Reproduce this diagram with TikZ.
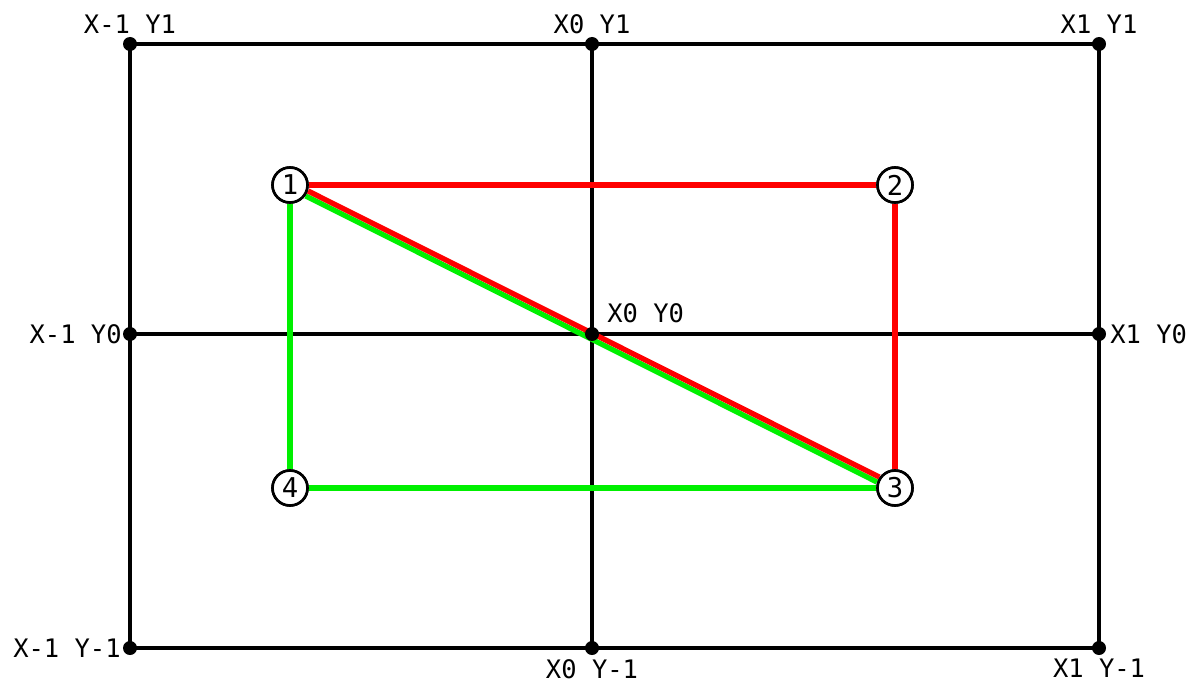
\documentclass[tikz,border=0pt]{standalone}
\usepackage{fontspec}
\setmonofont{DejaVu Sans Mono}
\usetikzlibrary{positioning,calc}
\definecolor{linered}{RGB}{255,0,0}
\definecolor{linegreen}{RGB}{0,240,0}

\begin{document}
\begin{tikzpicture}[x=0.02cm, y=0.02cm,
    gridline/.style={line width=1.8pt},
    lbl/.style={font=\ttfamily\fontsize{14.5}{16}\selectfont, inner sep=0pt},
    num/.style={circle, draw, line width=1.5pt, fill=white, minimum size=0.7cm, inner sep=0pt,
        font=\ttfamily\fontsize{15.5}{16}\selectfont},
    redline/.style={linered, line width=3pt},
    greenline/.style={linegreen, line width=3pt}]
    \useasboundingbox (0,0) rectangle (1196,684);
    % grid corners and middles
    \coordinate (LT) at (130,640); \coordinate (MT) at (592,640); \coordinate (RT) at (1099,640);
    \coordinate (LM) at (130,350); \coordinate (MM) at (592,350); \coordinate (RM) at (1099,350);
    \coordinate (LB) at (130,36);  \coordinate (MB) at (592,36);  \coordinate (RB) at (1099,36);
    \draw[gridline] (LT) -- (RT) -- (RB) -- (LB) -- cycle;
    \draw[gridline] (MT) -- (MB); \draw[gridline] (LM) -- (RM);

    \node[lbl, anchor=south] at ($(LT)+(0,10)$) {X-1 Y1};
    \node[lbl, anchor=south] at ($(MT)+(0,10)$) {X0 Y1};
    \node[lbl, anchor=south] at ($(RT)+(0,10)$) {X1 Y1};
    \node[lbl, anchor=east] at ($(LM)+(-8,0)$) {X-1 Y0};
    \node[lbl, anchor=base west] at ($(MM)+(15,12)$) {X0 Y0};
    \node[lbl, anchor=west] at ($(RM)+(11,0)$) {X1 Y0};
    \node[lbl, anchor=east] at ($(LB)+(-9,0)$) {X-1 Y-1};
    \node[lbl, anchor=north] at ($(MB)+(0,-11)$) {X0 Y-1};
    \node[lbl, anchor=north] at ($(RB)+(0,-11)$) {X1 Y-1};

    % the four numbered points
    \node[num] (n1) at (290,499) {1};
    \node[num] (n2) at (895,499) {2};
    \node[num] (n3) at (895,196) {3};
    \node[num] (n4) at (290,196) {4};

    \draw[greenline] (n1) -- (n4) -- (n3);
    \draw[greenline, transform canvas={shift={(-0.7pt,-1.4pt)}}] (n1) -- (n3);
    \draw[redline] (n1) -- (n2) -- (n3);
    \draw[redline, transform canvas={shift={(0.7pt,1.4pt)}}] (n1) -- (n3);
    \foreach \n/\t in {n1/1,n2/2,n3/3,n4/4} {\node[num] at (\n) {\t};}
    \foreach \p in {LT,MT,RT,LM,MM,RM,LB,MB,RB} {\fill (\p) circle (7);}
\end{tikzpicture}
\end{document}
